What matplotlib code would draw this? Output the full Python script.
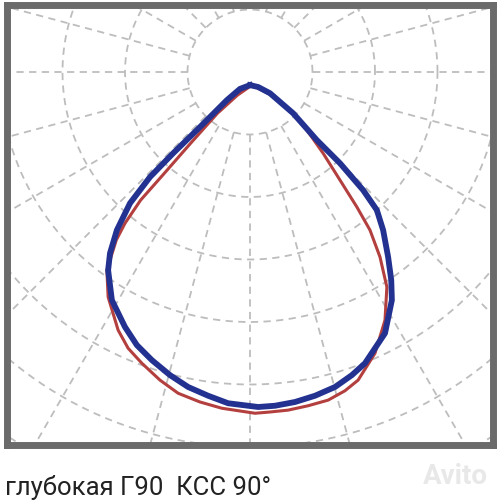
import numpy as np
import matplotlib.pyplot as plt

# grid: rings every 1 unit, rays every 15 deg (measured from straight down)
ring_radii = [1, 2, 3, 4, 5, 6, 7, 8]
ray_angles = np.arange(0, 360, 15)

# curves, grid pole at (0, 0), one ring = 1 unit
blue_x = [0.00, 0.13, 0.32, 0.69, 1.07, 1.44, 1.81, 2.03, 2.13, 2.21, 2.26, 2.27, 2.16, 1.84,
          1.63, 1.36, 1.04, 0.72, 0.40, 0.13, -0.35, -0.67, -0.99, -1.28, -1.57, -1.81,
          -2.00, -2.21, -2.27, -2.24, -2.13, -1.92, -1.60, -1.23, -0.80, -0.37, -0.16, 0.00]
blue_y = [-0.21, -0.24, -0.34, -0.66, -1.09, -1.46, -1.89, -2.21, -2.53, -2.96, -3.33, -3.65, -4.18, -4.66,
          -4.85, -5.04, -5.18, -5.28, -5.34, -5.36, -5.30, -5.18, -5.04, -4.85, -4.61, -4.37,
          -4.08, -3.65, -3.17, -2.90, -2.53, -2.10, -1.68, -1.30, -0.88, -0.45, -0.27, -0.21]

red_x = [0.03, 0.35, 0.64, 0.91, 1.17, 1.44, 1.71, 1.92, 2.08, 2.19, 2.16, 2.00, 1.73, 1.52,
         1.25, 0.93, 0.61, 0.32, 0.08, -0.45, -0.80, -1.15, -1.44, -1.73, -1.95, -2.11,
         -2.27, -2.29, -2.24, -2.14, -2.00, -1.75, -1.37, -0.95, -0.52, -0.20, 0.03]
red_y = [-0.21, -0.37, -0.61, -0.93, -1.30, -1.73, -2.16, -2.53, -2.96, -3.44, -3.97, -4.50, -4.93, -5.10,
         -5.25, -5.34, -5.41, -5.44, -5.46, -5.38, -5.28, -5.14, -4.93, -4.66, -4.42, -4.13,
         -3.60, -3.17, -3.01, -2.69, -2.42, -2.05, -1.62, -1.14, -0.66, -0.37, -0.21]

caption = "глубокая Г90  КСС 90°"

fig = plt.figure(figsize=(5, 5), dpi=100)
ax = fig.add_axes([0.014, 0.11, 0.971, 0.88])
ax.set_xlim(-3.888, 3.88)
ax.set_ylim(-5.968, 1.072)
ax.set_xticks([])
ax.set_yticks([])
for s in ax.spines.values():
    s.set_linewidth(5)
    s.set_color('#6b6b6b')

grid_kw = dict(color='#bdbdbd', lw=1.3, ls=(0, (4, 3)), zorder=1)
t = np.linspace(0, 2 * np.pi, 400)
for r in ring_radii:
    ax.plot(r * np.cos(t), r * np.sin(t), **grid_kw)
for a in ray_angles:
    g = np.radians(a)
    ax.plot([np.sin(g), 10 * np.sin(g)], [-np.cos(g), -10 * np.cos(g)], **grid_kw)

ax.plot(red_x, red_y, color='#b3403f', lw=2.2, solid_joinstyle='round', zorder=3)
ax.plot(blue_x, blue_y, color='#233290', lw=4.2, solid_joinstyle='round', zorder=4)

fig.text(0.01, 0.01, caption, fontsize=18.5, family='Roboto', color='#222222',
         ha='left', va='baseline')
fig.text(0.975, 0.032, "Avito", fontsize=20, family='Roboto', weight='bold',
         color='#e8e8e8', ha='right', va='baseline')

fig.savefig('out.png', dpi=100, facecolor='white')
